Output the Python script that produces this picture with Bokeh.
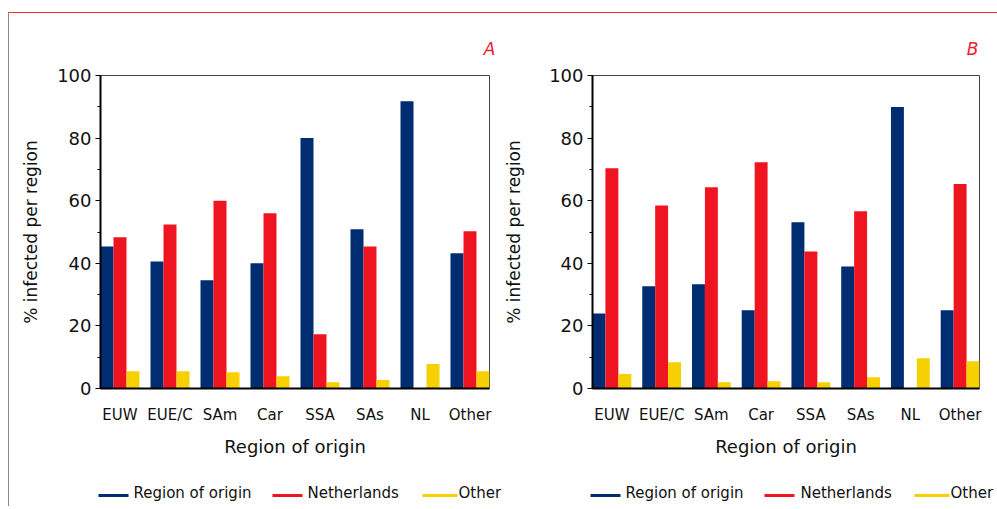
from bokeh.plotting import figure
from bokeh.models import (ColumnDataSource, Range1d, FixedTicker, SingleIntervalTicker)
from bokeh.core.properties import value
from bokeh.transform import dodge
from bokeh.layouts import row, column
from bokeh.embed import file_html
from bokeh.resources import INLINE

regions = ["EUW", "EUE/C", "SAm", "Car", "SSA", "SAs", "NL", "Other"]

a_origin = [45.4, 40.6, 34.6, 40.0, 80.0, 50.9, 91.8, 43.2]
a_netherlands = [48.3, 52.4, 60.0, 56.0, 17.3, 45.4, 0.0, 50.2]
a_other = [5.5, 5.5, 5.2, 3.9, 2.0, 2.7, 7.8, 5.5]

b_origin = [24.0, 32.7, 33.3, 25.0, 53.1, 39.0, 89.9, 25.0]
b_netherlands = [70.4, 58.5, 64.3, 72.3, 43.8, 56.6, 0.0, 65.3]
b_other = [4.6, 8.4, 2.0, 2.3, 2.0, 3.6, 9.7, 8.7]

series_names = ["Region of origin", "Netherlands", "Other"]
colors = ["#002d72", "#ef1520", "#f6d000"]

FONT = "DejaVu Sans"


def panel(origin, neth, other, letter, left, width, right, ylab_standoff, letter_offset):
    p = figure(width=left + width + right, height=447, output_backend="svg",
               toolbar_location=None, x_range=Range1d(-0.39, 7.39),
               y_range=Range1d(0, 100), min_border_left=left, min_border_right=right,
               min_border_top=62, min_border_bottom=72)
    p.background_fill_color = "white"
    p.border_fill_color = "white"
    p.grid.visible = False
    p.outline_line_color = "#444444"
    p.outline_line_width = 1

    p.title.text = letter
    p.title.align = "right"
    p.title.offset = letter_offset
    p.title.standoff = 34
    p.title.text_color = "#ee2030"
    p.title.text_font = FONT
    p.title.text_font_size = "17px"
    p.title.text_font_style = "italic"

    src = ColumnDataSource(dict(x=list(range(len(regions))), a=origin, b=neth, c=other))
    offs = [-0.26, 0.0, 0.26]
    for col, off, c in zip(["a", "b", "c"], offs, colors):
        p.vbar(x=dodge("x", off, range=p.x_range), top=col, width=0.26, bottom=0,
               source=src, fill_color=c, line_color=None)

    # x axis
    xa = p.xaxis[0]
    xa.ticker = FixedTicker(ticks=list(range(len(regions))))
    xa.major_label_overrides = {i: r for i, r in enumerate(regions)}
    xa.major_tick_line_color = None
    xa.minor_tick_line_color = None
    xa.axis_line_color = "black"
    xa.axis_line_width = 2
    xa.major_label_text_font = FONT
    xa.major_label_text_font_size = "15px"
    xa.major_label_text_color = "#111111"
    xa.major_label_standoff = 11
    xa.axis_label = "Region of origin"
    xa.axis_label_text_font = FONT
    xa.axis_label_text_font_size = "18px"
    xa.axis_label_text_font_style = "normal"
    xa.axis_label_text_color = "#111111"
    xa.axis_label_standoff = 9

    # y axis
    ya = p.yaxis[0]
    ya.ticker = SingleIntervalTicker(interval=20, num_minor_ticks=2)
    ya.axis_line_color = "black"
    ya.axis_line_width = 2
    ya.major_tick_out = 5
    ya.major_tick_in = 0
    ya.minor_tick_out = 3
    ya.minor_tick_in = 0
    ya.major_tick_line_color = "black"
    ya.minor_tick_line_color = "black"
    ya.major_label_text_font = FONT
    ya.major_label_text_font_size = "18px"
    ya.major_label_text_color = "#111111"
    ya.major_label_standoff = 4
    ya.axis_label = "% infected per region"
    ya.axis_label_text_font = FONT
    ya.axis_label_text_font_size = "17px"
    ya.axis_label_text_font_style = "normal"
    ya.axis_label_text_color = "#111111"
    ya.axis_label_standoff = ylab_standoff
    return p


def legend_strip(width, line_x0, line_x1, text_x):
    # pixel-space strip holding the legend keys of both panels (layout positions only)
    h = 46
    q = figure(width=width, height=h, output_backend="svg", toolbar_location=None,
               x_range=Range1d(0, width), y_range=Range1d(h, 0),
               min_border_left=0, min_border_right=0, min_border_top=0,
               min_border_bottom=0)
    q.frame_align = False
    q.axis.visible = False
    q.grid.visible = False
    q.outline_line_color = None
    q.background_fill_color = "white"
    q.border_fill_color = "white"
    n = len(line_x0)
    src = ColumnDataSource(dict(x0=line_x0, x1=line_x1, tx=text_x,
                                ly=[35] * n, ty=[32] * n,
                                name=series_names * 2, color=colors * 2))
    q.segment(x0="x0", y0="ly", x1="x1", y1="ly", line_color="color",
              line_width=3, source=src)
    q.text(x="tx", y="ty", text="name", source=src, text_font=value(FONT),
           text_font_size="15px", text_color="#111111", text_baseline="middle",
           text_align="left")
    return q


pa = panel(a_origin, a_netherlands, a_other, "A", 91, 389, 8, 13, -6)
pb = panel(b_origin, b_netherlands, b_other, "B", 95, 387, 18, 22, 1)
strip = legend_strip(988,
                     [89, 263, 413, 581, 755, 905],
                     [119, 293, 448, 611, 785, 940],
                     [124, 298, 449, 616, 791, 941])

layout = column(row(pa, pb, spacing=0), strip, spacing=0,
                styles={"margin-left": "8px", "margin-top": "12px",
                        "border-top": "1px solid #ee2a35",
                        "border-left": "1px solid #888888"})

open("out.html", "w").write(file_html(layout, INLINE))
